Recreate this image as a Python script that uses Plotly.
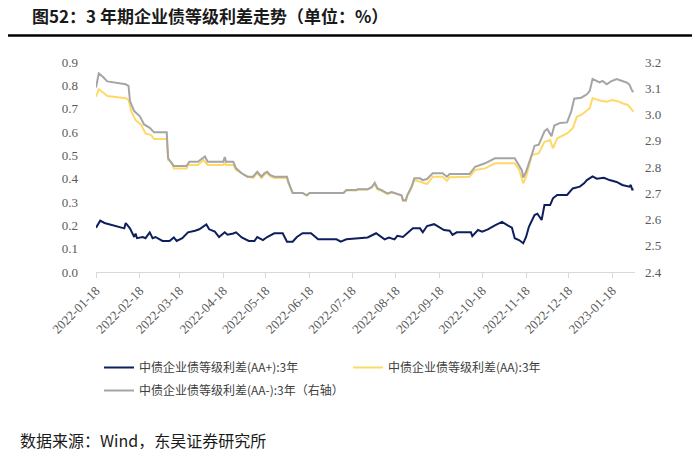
import plotly.graph_objects as go

# ---- data ----
aa_plus_dates = ["2022-01-18","2022-01-21","2022-01-24","2022-02-07","2022-02-08","2022-02-11","2022-02-14","2022-02-15",
    "2022-02-16","2022-02-20","2022-02-22","2022-02-25","2022-02-27","2022-03-01","2022-03-06","2022-03-11","2022-03-14",
    "2022-03-16","2022-03-20","2022-03-24","2022-03-29","2022-04-01","2022-04-06","2022-04-08","2022-04-12","2022-04-15",
    "2022-04-19","2022-04-21","2022-04-25","2022-04-27","2022-05-01","2022-05-06","2022-05-10","2022-05-12","2022-05-16",
    "2022-05-19","2022-05-24","2022-05-30","2022-06-02","2022-06-06","2022-06-09","2022-06-13","2022-06-19","2022-06-24",
    "2022-07-07","2022-07-10","2022-07-14","2022-07-21","2022-07-29","2022-08-04","2022-08-08","2022-08-10","2022-08-13",
    "2022-08-17","2022-08-19","2022-08-23","2022-08-30","2022-09-04","2022-09-06","2022-09-09","2022-09-14","2022-09-18",
    "2022-09-21","2022-09-25","2022-09-27","2022-09-30","2022-10-10","2022-10-11","2022-10-15","2022-10-18","2022-10-22",
    "2022-10-27","2022-11-01","2022-11-05","2022-11-08","2022-11-10","2022-11-13","2022-11-16","2022-11-18","2022-11-20",
    "2022-11-24","2022-11-26","2022-11-29","2022-12-01","2022-12-05","2022-12-07","2022-12-10","2022-12-17","2022-12-21",
    "2022-12-26","2022-12-29","2022-12-31","2023-01-04","2023-01-07","2023-01-12","2023-01-16","2023-01-21","2023-01-25",
    "2023-01-30","2023-01-31","2023-02-01","2023-02-02"]
aa_plus_vals = [0.19,0.22,0.21,0.187,0.21,0.187,0.15,0.165,
    0.145,0.15,0.145,0.17,0.145,0.15,0.133,0.133,0.148,
    0.133,0.145,0.17,0.177,0.183,0.204,0.183,0.173,0.15,
    0.17,0.16,0.165,0.17,0.148,0.133,0.133,0.15,0.137,
    0.15,0.166,0.166,0.13,0.13,0.15,0.166,0.166,0.14,
    0.14,0.13,0.14,0.145,0.148,0.166,0.15,0.14,0.148,
    0.14,0.155,0.15,0.187,0.187,0.17,0.197,0.205,0.19,
    0.18,0.177,0.159,0.17,0.17,0.154,0.18,0.173,0.183,
    0.2,0.215,0.2,0.19,0.145,0.137,0.123,0.15,0.194,
    0.244,0.25,0.223,0.287,0.287,0.316,0.33,0.33,0.358,
    0.366,0.38,0.394,0.41,0.40,0.404,0.394,0.386,0.373,
    0.366,0.373,0.354,0.354]

aa_dates = ["2022-01-18","2022-01-20","2022-01-23","2022-01-26","2022-02-08","2022-02-10","2022-02-12","2022-02-15",
    "2022-02-19","2022-02-22","2022-02-26","2022-02-28","2022-03-09","2022-03-10","2022-03-12","2022-03-14","2022-03-23",
    "2022-03-24","2022-03-31","2022-04-04","2022-04-07","2022-04-18","2022-04-19","2022-04-20","2022-04-25","2022-04-27",
    "2022-05-01","2022-05-05","2022-05-09","2022-05-12","2022-05-15","2022-05-17","2022-05-19","2022-05-21","2022-05-24",
    "2022-06-02","2022-06-03","2022-06-06","2022-06-13","2022-06-16","2022-06-18","2022-07-12","2022-07-14","2022-07-21",
    "2022-07-22","2022-07-29","2022-08-01","2022-08-03","2022-08-05","2022-08-08","2022-08-12","2022-08-15","2022-08-19",
    "2022-08-22","2022-08-23","2022-08-25","2022-08-26","2022-08-29","2022-08-31","2022-09-04","2022-09-09","2022-09-13",
    "2022-09-20","2022-09-23","2022-09-25","2022-10-09","2022-10-13","2022-10-20","2022-10-27","2022-11-10","2022-11-13",
    "2022-11-16","2022-11-18","2022-11-22","2022-11-27","2022-12-01","2022-12-05","2022-12-07","2022-12-10","2022-12-17",
    "2022-12-21","2022-12-24","2022-12-27","2023-01-02","2023-01-04","2023-01-09","2023-01-14","2023-01-18","2023-01-23",
    "2023-01-25","2023-01-29","2023-02-01","2023-02-02"]
aa_vals = [0.751,0.783,0.769,0.754,0.745,0.737,0.687,0.651,
    0.63,0.594,0.587,0.57,0.57,0.48,0.473,0.444,0.444,
    0.459,0.459,0.48,0.459,0.459,0.467,0.459,0.459,0.437,
    0.423,0.409,0.403,0.424,0.403,0.416,0.424,0.411,0.403,
    0.403,0.381,0.339,0.339,0.328,0.339,0.339,0.349,0.349,
    0.354,0.354,0.362,0.377,0.354,0.347,0.334,0.341,0.334,
    0.326,0.304,0.304,0.326,0.36,0.394,0.387,0.377,0.408,
    0.408,0.391,0.406,0.408,0.437,0.444,0.466,0.466,0.44,
    0.38,0.408,0.501,0.509,0.558,0.566,0.53,0.573,0.594,
    0.616,0.666,0.673,0.702,0.745,0.735,0.73,0.737,0.73,
    0.723,0.716,0.694,0.687]

aa_minus_dates = ["2022-01-18","2022-01-20","2022-01-23","2022-01-26","2022-02-08","2022-02-10","2022-02-11","2022-02-14",
    "2022-02-18","2022-02-21","2022-02-25","2022-02-28","2022-03-09","2022-03-10","2022-03-14","2022-03-23","2022-03-25",
    "2022-03-31","2022-04-05","2022-04-07","2022-04-18","2022-04-19","2022-04-20","2022-04-25","2022-04-27","2022-05-01",
    "2022-05-05","2022-05-09","2022-05-12","2022-05-15","2022-05-17","2022-05-19","2022-05-21","2022-05-24","2022-06-02",
    "2022-06-03","2022-06-06","2022-06-13","2022-06-16","2022-06-18","2022-07-12","2022-07-14","2022-07-21","2022-07-22",
    "2022-07-29","2022-08-01","2022-08-03","2022-08-05","2022-08-08","2022-08-12","2022-08-15","2022-08-19","2022-08-22",
    "2022-08-23","2022-08-25","2022-08-26","2022-08-29","2022-08-31","2022-09-04","2022-09-06","2022-09-09","2022-09-13",
    "2022-09-20","2022-09-23","2022-09-25","2022-10-09","2022-10-13","2022-10-20","2022-10-27","2022-11-10","2022-11-12",
    "2022-11-15","2022-11-16","2022-11-18","2022-11-22","2022-11-24","2022-11-27","2022-12-01","2022-12-03","2022-12-06",
    "2022-12-08","2022-12-12","2022-12-17","2022-12-20","2022-12-22","2022-12-27","2022-12-31","2023-01-02","2023-01-04",
    "2023-01-09","2023-01-11","2023-01-14","2023-01-17","2023-01-21","2023-01-28","2023-01-30","2023-02-01","2023-02-02"]
aa_minus_vals = [3.103,3.157,3.143,3.126,3.115,3.109,3.051,3.013,
    2.993,2.962,2.949,2.932,2.932,2.833,2.804,2.804,2.82,
    2.82,2.84,2.82,2.82,2.838,2.82,2.82,2.795,2.776,
    2.763,2.763,2.782,2.763,2.776,2.782,2.770,2.763,2.763,
    2.743,2.701,2.701,2.692,2.701,2.701,2.712,2.712,2.715,
    2.715,2.724,2.74,2.718,2.712,2.699,2.705,2.699,2.692,
    2.673,2.673,2.692,2.724,2.757,2.757,2.75,2.754,2.776,
    2.776,2.763,2.773,2.773,2.801,2.814,2.833,2.833,2.814,
    2.788,2.76,2.782,2.846,2.881,2.885,2.936,2.945,2.917,
    2.958,2.968,2.97,3.013,3.06,3.064,3.077,3.09,3.135,
    3.122,3.128,3.115,3.126,3.135,3.122,3.115,3.09,3.086]

series_names = ["中债企业债等级利差(AA+):3年", "中债企业债等级利差(AA):3年", "中债企业债等级利差(AA-):3年（右轴）"]
tick_dates = ["2022-01-18","2022-02-18","2022-03-18","2022-04-18","2022-05-18","2022-06-18","2022-07-18",
              "2022-08-18","2022-09-18","2022-10-18","2022-11-18","2022-12-18","2023-01-18"]
left_ticks = [0.0,0.1,0.2,0.3,0.4,0.5,0.6,0.7,0.8,0.9]
right_ticks = [2.4,2.5,2.6,2.7,2.8,2.9,3.0,3.1,3.2]

title_text = "图52：3 年期企业债等级利差走势（单位：%）"
source_text = "数据来源：Wind，东吴证券研究所"

# ---- figure ----
W, H = 700, 463
ML, MR, MT, MB = 96, 65, 62, 191
pw, ph = W - ML - MR, H - MT - MB
def px_x(x): return (x - ML) / pw
def px_y(y): return (H - MB - y) / ph

fig = go.Figure()
fig.add_trace(go.Scatter(x=aa_plus_dates, y=aa_plus_vals, name=series_names[0], mode="lines",
                         line=dict(color="#0d1f5c", width=2), legend="legend"))
fig.add_trace(go.Scatter(x=aa_dates, y=aa_vals, name=series_names[1], mode="lines",
                         line=dict(color="#ffd966", width=2), legend="legend"))
fig.add_trace(go.Scatter(x=aa_minus_dates, y=aa_minus_vals, name=series_names[2], mode="lines",
                         line=dict(color="#a5a5a5", width=2), yaxis="y2", legend="legend2"))

tick_font = dict(family="Times New Roman, Liberation Serif, serif", size=13, color="#595959")
cjk = "Noto Sans CJK SC"
leg_font = dict(family=cjk, size=12, color="#404040")

fig.update_layout(
    width=W, height=H, margin=dict(l=ML, r=MR, t=MT, b=MB),
    paper_bgcolor="white", plot_bgcolor="white",
    title=dict(text="<b>" + title_text + "</b>", x=32 / W, xanchor="left", xref="container",
               y=1 - 17 / H, yanchor="middle", yref="container",
               font=dict(family=cjk, size=17, color="#1a1a1a")),
    xaxis=dict(type="date", range=["2022-01-18", "2023-02-03"], tickvals=tick_dates, ticktext=tick_dates,
               tickangle=-45, showgrid=False, showline=True, linecolor="#d9d9d9", linewidth=1,
               ticks="outside", ticklen=5, tickcolor="#d9d9d9", tickfont=tick_font, zeroline=False),
    yaxis=dict(range=[0, 0.9], tickvals=left_ticks, tickformat=".1f", showgrid=False, zeroline=False,
               showline=False, ticks="", tickfont=tick_font, ticklabelstandoff=17),
    yaxis2=dict(range=[2.4, 3.2], tickvals=right_ticks, tickformat=".1f", overlaying="y", side="right",
                showgrid=False, zeroline=False, showline=False, ticks="", tickfont=tick_font,
                ticklabelstandoff=9),
    legend=dict(orientation="h", x=px_x(99), xanchor="left", y=px_y(353), yanchor="top",
                entrywidth=204, entrywidthmode="pixels", font=leg_font,
                bgcolor="rgba(0,0,0,0)", itemwidth=30, traceorder="normal"),
    legend2=dict(orientation="h", x=px_x(99), xanchor="left", y=px_y(376), yanchor="top",
                 font=leg_font, bgcolor="rgba(0,0,0,0)", itemwidth=30),
    showlegend=True,
)

fig.add_shape(type="line", xref="paper", yref="paper", x0=px_x(8), x1=px_x(692), y0=px_y(35.5), y1=px_y(35.5),
              line=dict(color="black", width=2.5))
fig.add_annotation(text=source_text, xref="paper", yref="paper", x=px_x(18), y=px_y(440), xanchor="left",
                   yanchor="middle", showarrow=False, font=dict(family=cjk, size=16, color="#1a1a1a"))

fig.write_html("out.html", config={"displayModeBar": False},
               post_script="document.body.style.margin='0px';")
